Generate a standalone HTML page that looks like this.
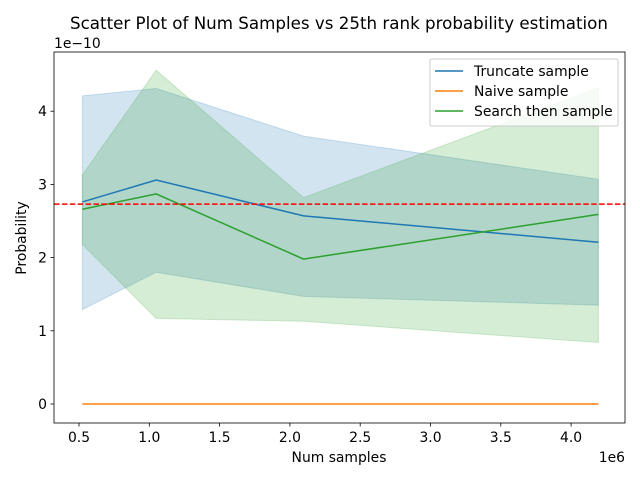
<!DOCTYPE html>
<html><head><meta charset="utf-8"><style>
body{margin:0;background:#fff;font-family:"Liberation Sans","DejaVu Sans",sans-serif}
svg text{font-family:"DejaVu Sans","Liberation Sans",sans-serif}
</style></head><body>
<svg id="c" width="640" height="480" xmlns="http://www.w3.org/2000/svg"></svg>
<script>
const xs=[0.524,1.049,2.097,4.194];
const truncMean=[2.76,3.06,2.57,2.21];
const truncLo=[1.29,1.80,1.47,1.35];
const truncHi=[4.21,4.31,3.66,3.07];
const naiveMean=[0,0,0,0];
const searchMean=[2.66,2.87,1.98,2.59];
const searchLo=[2.18,1.17,1.13,0.84];
const searchHi=[3.13,4.56,2.82,4.32];
const refLine=2.73;
const xTicks=[0.5,1.0,1.5,2.0,2.5,3.0,3.5,4.0];
const yTicks=[0,1,2,3,4];
const L=54,R=625,T=52,B=423;
const X=v=>79+(v-0.5)*140.6;
const Y=v=>404-v*73.2;
const s=document.getElementById('c');const NS='http://www.w3.org/2000/svg';
function el(t,a,p){const e=document.createElementNS(NS,t);for(const k in a)e.setAttribute(k,a[k]);(p||s).appendChild(e);return e;}
function band(lo,hi,col,name){const pts=xs.map((x,i)=>X(x)+','+Y(hi[i])).concat(xs.map((x,i)=>X(x)+','+Y(lo[i])).reverse());
const e=el('polygon',{points:pts.join(' '),fill:col,'fill-opacity':0.2,stroke:col,'stroke-opacity':0.2});

}
function line(m,col,name){const e=el('polyline',{points:xs.map((x,i)=>X(x)+','+Y(m[i])).join(' '),fill:'none',stroke:col,'stroke-width':1.5});

}
band(truncLo,truncHi,'#1f77b4','truncate-band');
band(searchLo,searchHi,'#2ca02c','search-band');
line(truncMean,'#1f77b4','truncate-line');
line(naiveMean,'#ff7f0e','naive-line');
line(searchMean,'#2ca02c','search-line');
const r=el('line',{x1:L,x2:R,y1:Y(refLine),y2:Y(refLine),stroke:'red','stroke-width':1.5,'stroke-dasharray':'5.5,2.4'});


el('rect',{x:L,y:T,width:R-L,height:B-T,fill:'none',stroke:'#000','stroke-width':0.8});
xTicks.forEach(t=>{el('line',{x1:X(t),x2:X(t),y1:B,y2:B+3.5,stroke:'#000','stroke-width':0.8});
const tx=el('text',{x:X(t),y:B+19,'font-size':13.9,'text-anchor':'middle'});tx.textContent=t.toFixed(1);

});
yTicks.forEach(t=>{el('line',{x1:L,x2:L-3.5,y1:Y(t),y2:Y(t),stroke:'#000','stroke-width':0.8});
const tx=el('text',{x:L-7,y:Y(t)+5,'font-size':13.9,'text-anchor':'end'});tx.textContent=t;

});
function txt(x,y,str,sz,name,anchor,rot){const e=el('text',{x:x,y:y,'font-size':sz,'text-anchor':anchor||'middle'});if(rot)e.setAttribute('transform',rot);e.textContent=str;

}
txt(339,29,'Scatter Plot of Num Samples vs 25th rank probability estimation',16.7,'chart-title');
txt(339,462,'Num samples',13.9,'x-axis-title');
txt(26,238,'Probability',13.9,'y-axis-title','middle','rotate(-90 26 238)');
txt(54,48,'1e−10',13.9,'y-offset-label','start');
txt(625,462,'1e6',13.9,'x-offset-label','end');
const lg=el('g',{});
el('rect',{x:430,y:59,width:188,height:67,fill:'#fff','fill-opacity':0.8,stroke:'#ccc',rx:2},lg);
[['Truncate sample','#1f77b4'],['Naive sample','#ff7f0e'],['Search then sample','#2ca02c']].forEach((d,i)=>{const y=71+i*20;
el('line',{x1:435,x2:463,y1:y,y2:y,stroke:d[1],'stroke-width':1.5},lg);
const t=el('text',{x:474,y:y+5,'font-size':13.9},lg);t.textContent=d[0];

});
</script>
</body></html>
